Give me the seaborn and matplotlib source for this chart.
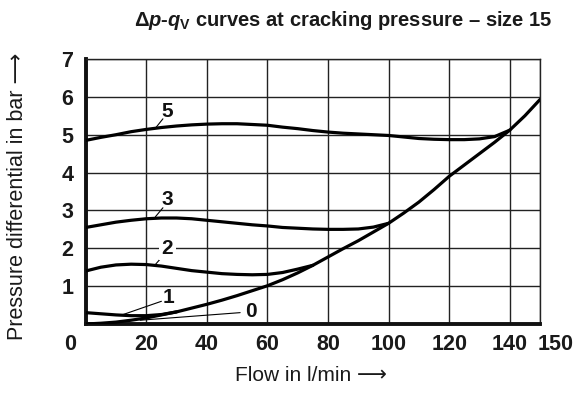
import pandas as pd
import matplotlib.pyplot as plt
import seaborn as sns
from matplotlib.transforms import ScaledTranslation

# Curve data (flow in l/min, pressure differential in bar)
flow_0 = [0, 5, 10, 15, 20, 25, 30, 35, 40, 45, 50, 55, 60, 65, 70, 75, 80, 85, 90, 95,
          100, 105, 110, 115, 120, 125, 130, 135, 140, 145, 150]
dp_0 = [0, 0.02, 0.05, 0.1, 0.16, 0.24, 0.32, 0.42, 0.52, 0.63, 0.75, 0.88, 1.01, 1.17,
        1.35, 1.55, 1.77, 1.99, 2.2, 2.43, 2.66, 2.93, 3.22, 3.55, 3.9, 4.2, 4.5, 4.8,
        5.12, 5.5, 5.93]

flow_1 = [0, 5, 10, 15, 20, 25, 30]
dp_1 = [0.3, 0.27, 0.24, 0.22, 0.22, 0.25, 0.32]

flow_2 = [0, 5, 10, 15, 20, 25, 30, 35, 40, 45, 50, 55, 60, 65, 70, 75]
dp_2 = [1.4, 1.5, 1.56, 1.58, 1.57, 1.53, 1.47, 1.41, 1.37, 1.33, 1.31, 1.3, 1.31, 1.36,
        1.45, 1.55]

flow_3 = [0, 5, 10, 15, 20, 25, 30, 35, 40, 45, 50, 55, 60, 65, 70, 75, 80, 85, 90, 95, 100]
dp_3 = [2.55, 2.62, 2.69, 2.74, 2.78, 2.8, 2.8, 2.78, 2.74, 2.7, 2.66, 2.62, 2.59, 2.55,
        2.53, 2.51, 2.5, 2.5, 2.51, 2.56, 2.66]

flow_5 = [0, 5, 10, 15, 20, 25, 30, 35, 40, 45, 50, 55, 60, 65, 70, 75, 80, 85, 90, 95,
          100, 105, 110, 115, 120, 125, 130, 135, 140]
dp_5 = [4.85, 4.93, 5.0, 5.08, 5.14, 5.19, 5.23, 5.26, 5.28, 5.29, 5.29, 5.27, 5.25, 5.2,
        5.16, 5.11, 5.07, 5.04, 5.02, 5.0, 4.98, 4.94, 4.9, 4.88, 4.87, 4.87, 4.89, 4.95,
        5.12]

x_ticks = [0, 20, 40, 60, 80, 100, 120, 140, 150]
y_ticks = [1, 2, 3, 4, 5, 6, 7]

curves = {"0": (flow_0, dp_0), "1": (flow_1, dp_1), "2": (flow_2, dp_2),
          "3": (flow_3, dp_3), "5": (flow_5, dp_5)}
df = pd.concat([pd.DataFrame({"flow": f, "dp": p, "curve": k}) for k, (f, p) in curves.items()])

sns.set_theme(style="white")
plt.rcParams["font.family"] = ["Liberation Sans", "DejaVu Sans"]
plt.rcParams["mathtext.fontset"] = "custom"
plt.rcParams["mathtext.it"] = "Liberation Sans:italic:bold"
plt.rcParams["mathtext.rm"] = "Liberation Sans:bold"

fig = plt.figure(figsize=(5.84, 4), dpi=100)
ax = fig.add_axes([0.1467, 0.19, 0.778, 0.6625])

sns.lineplot(data=df, x="flow", y="dp", hue="curve", palette=["black"] * 5,
             linewidth=2.3, legend=False, ax=ax, zorder=3)

ax.set_xlim(0, 150)
ax.set_ylim(0, 7)
ax.set_xticks(x_ticks)
ax.set_yticks(y_ticks)
narrow = ["Liberation Sans Narrow", "Liberation Sans", "DejaVu Sans"]
tick_font = dict(family=narrow, weight="bold", size=15.5)
ax.set_xticklabels([str(v) for v in x_ticks], **tick_font)
ax.set_yticklabels([str(v) for v in y_ticks], **tick_font)
ax.tick_params(axis="x", length=0, pad=7, colors="#1a1a1a")
ax.tick_params(axis="y", length=0, pad=9, colors="#1a1a1a")
# the "0" label sits left of the axis corner, "150" right of the corner
xl = ax.get_xticklabels()
xl[0].set_transform(xl[0].get_transform() + ScaledTranslation(-11 / 72, 0, fig.dpi_scale_trans))
xl[-1].set_transform(xl[-1].get_transform() + ScaledTranslation(11 / 72, 0, fig.dpi_scale_trans))

ax.grid(True, color="#222222", linewidth=1.0)
ax.set_axisbelow(True)
for side in ["top", "right"]:
    ax.spines[side].set_linewidth(1.0)
    ax.spines[side].set_color("#222222")
for side in ["left", "bottom"]:
    ax.spines[side].set_linewidth(2.8)
    ax.spines[side].set_color("#111111")

# curve labels with leader lines
lab_style = dict(fontsize=15, fontweight="bold", color="#111111", ha="center", va="center",
                 family=narrow, zorder=5)
ax.text(27, 5.62, "5", **lab_style)
ax.plot([23, 25.5], [5.17, 5.42], color="black", lw=0.8, zorder=4)
ax.text(27, 3.3, "3", **lab_style)
ax.plot([23, 25.5], [2.83, 3.07], color="black", lw=0.8, zorder=4)
ax.text(27, 2.0, "2", bbox=dict(facecolor="white", edgecolor="none", pad=2), **lab_style)
ax.plot([23, 25.5], [1.57, 1.8], color="black", lw=0.8, zorder=4)
ax.text(27.5, 0.7, "1", **lab_style)
ax.plot([12, 25], [0.24, 0.6], color="black", lw=0.8, zorder=4)
ax.text(54.5, 0.32, "0", **lab_style)
ax.plot([18, 51], [0.1, 0.3], color="black", lw=0.8, zorder=4)

ax.set_xlabel("Flow in l/min \u27f6", fontsize=15, color="#1a1a1a",
              family=["Liberation Sans", "DejaVu Sans"])
ax.xaxis.set_label_coords(0.496, -0.16)
ax.set_ylabel("Pressure differential in bar \u27f6", fontsize=15.5, color="#1a1a1a",
              family=["Liberation Sans", "DejaVu Sans"])
ax.yaxis.set_label_coords(-0.149, 0.48)
ax.yaxis.label.set_va("center")
title = r"$\Delta\mathit{p}$-$\mathit{q}_\mathrm{V}$ curves at cracking pressure " + "\u2013 size 15"
fig.text(0.587, 0.948, title, ha="center", va="center", fontsize=14.5,
         fontweight="bold", color="#1a1a1a")

fig.savefig("out.png", dpi=100)
